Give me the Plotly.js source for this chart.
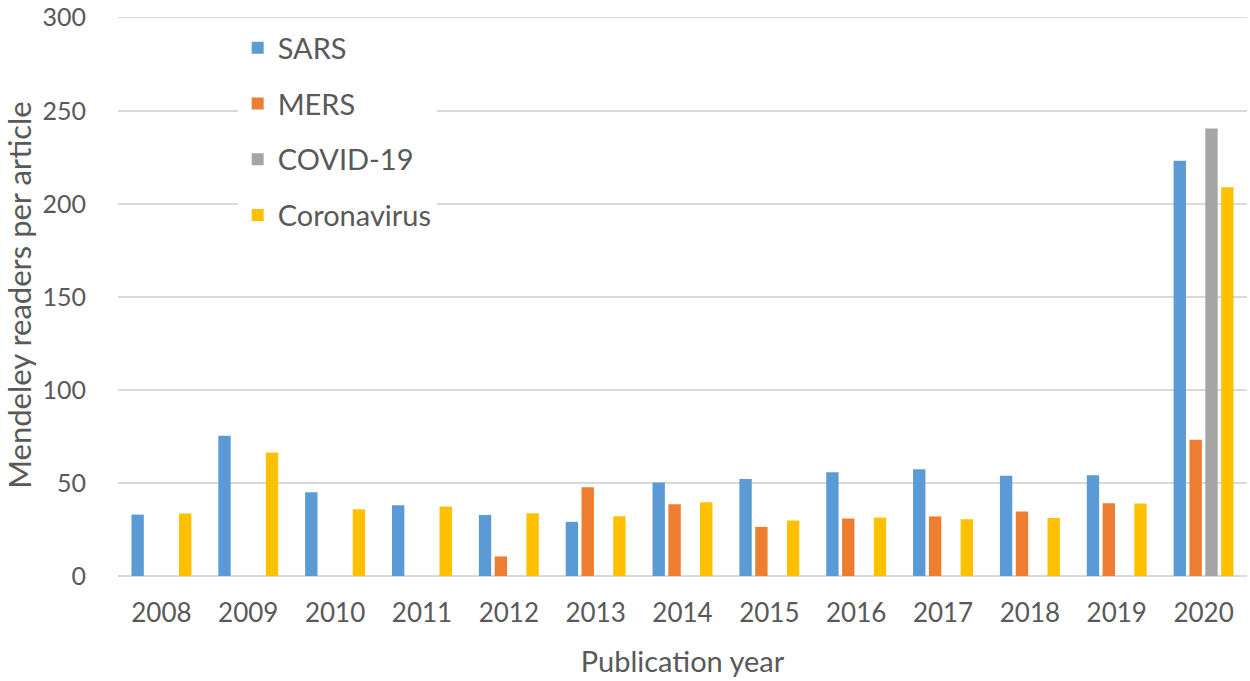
<!DOCTYPE html>
<html><head><meta charset="utf-8">
<script src="https://cdn.plot.ly/plotly-3.0.1.min.js"></script>
<style>body{margin:0;background:#fff}#c{width:1250px;height:681px}</style>
</head><body><div id="c"></div>
<script>
var years = ["2008","2009","2010","2011","2012","2013","2014","2015","2016","2017","2018","2019","2020"];
var sars = [33.0,75.4,45.0,38.0,32.8,29.1,50.2,52.1,55.7,57.3,53.9,54.1,223.2];
var mers = [null,null,null,null,10.5,47.7,38.6,26.4,30.9,32.0,34.7,39.1,73.2];
var covid = [null,null,null,null,null,null,null,null,null,null,null,null,240.5];
var coronavirus = [33.6,66.4,35.9,37.3,33.7,32.1,39.6,29.8,31.4,30.5,31.2,38.9,208.9];
var yTicks = [0,50,100,150,200,250,300];
var names = ["SARS","MERS","COVID-19","Coronavirus"];
var colors = ["#5b9bd5","#ed7d31","#a5a5a5","#ffc000"];
var series = [sars, mers, covid, coronavirus];
var font = "Lato, 'Open Sans', sans-serif";
var traces = series.map(function(s,i){
  return {type:"bar", x:years, y:s, name:names[i], legendgroup:"g"+i,
    marker:{color:colors[i]}, hoverinfo:"x+y"};
});
var layout = {
  width:1250, height:681,
  margin:{l:118,r:3,t:14,b:105},
  paper_bgcolor:"#fff", plot_bgcolor:"#fff",
  barmode:"group", bargap:0.27, bargroupgap:0.22,
  font:{family:font, color:"#595959", size:26},
  xaxis:{type:"category", showgrid:false, zeroline:false, showline:false, ticks:"",
    tickfont:{size:26,color:"#595959"}, ticklabelstandoff:19,
    title:{text:"Publication year", font:{size:29,color:"#595959"}, standoff:24}},
  yaxis:{range:[0,302], tickvals:yTicks, showgrid:true, gridcolor:"#d9d9d9", gridwidth:1.5,
    zeroline:true, zerolinecolor:"#d9d9d9", zerolinewidth:1.5, showline:false, ticks:"",
    ticklen:0, tickfont:{size:25,color:"#595959"}, ticklabelstandoff:31, ticklabeloverflow:"allow",
    title:{text:"Mendeley readers per article", font:{size:31,color:"#595959"}, standoff:14}},
  legend:{x:0.106, y:0.985, xanchor:"left", yanchor:"top", bgcolor:"#fff",
    traceorder:"grouped", tracegroupgap:15, font:{size:29,color:"#595959"}},
  showlegend:true
};
Plotly.newPlot("c", traces, layout, {displayModeBar:false, staticPlot:true});
</script></body></html>
